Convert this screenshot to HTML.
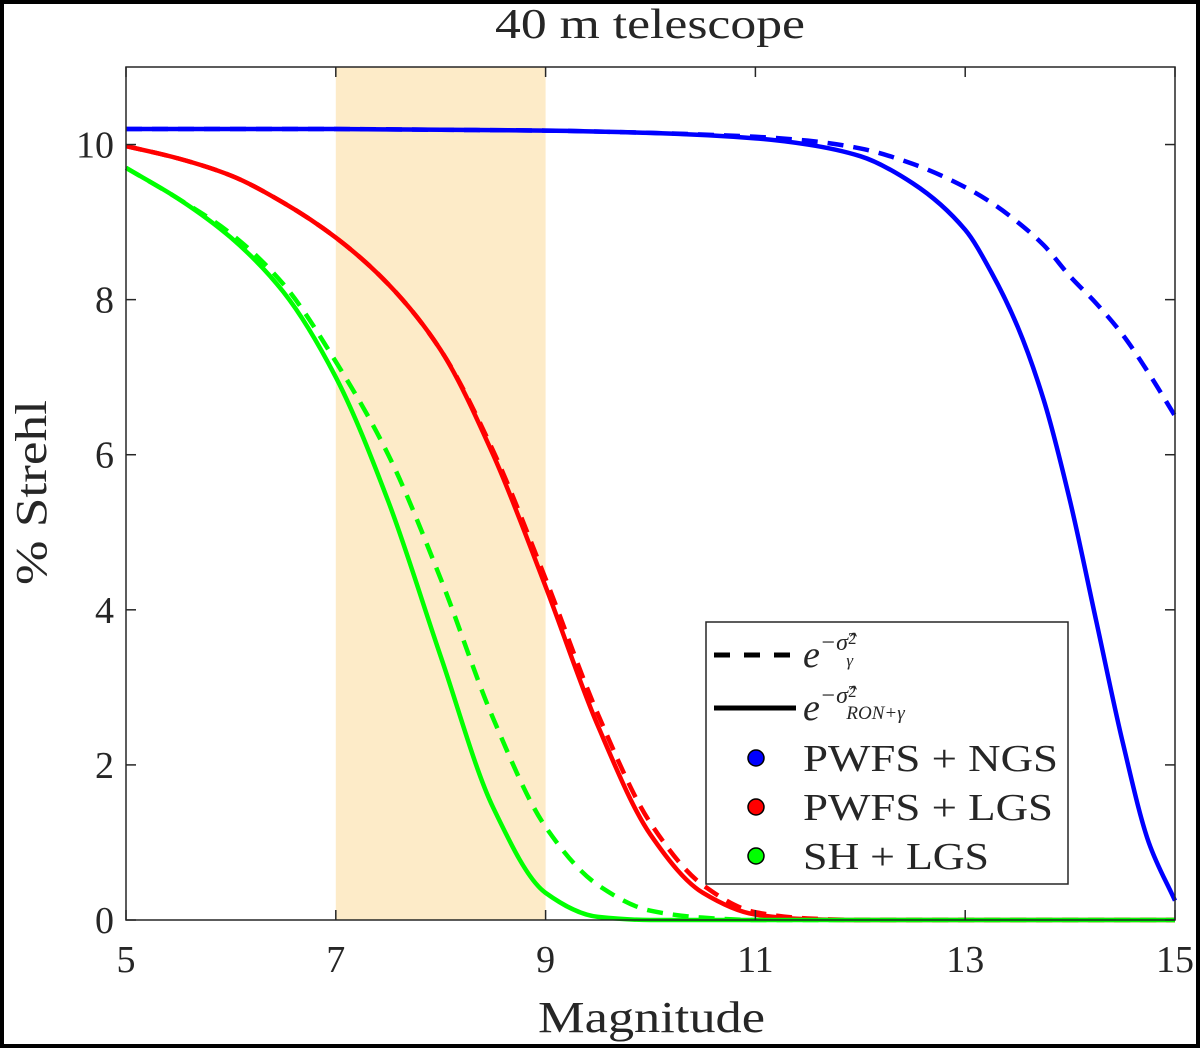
<!DOCTYPE html>
<html><head><meta charset="utf-8"><style>
body{margin:0;background:#fff}
svg{display:block}
text{font-family:"Liberation Serif",serif;fill:#262626}
</style></head><body>
<svg width="1200" height="1048" viewBox="0 0 1200 1048">
<rect x="2" y="2" width="1196" height="1044" fill="#fff" stroke="#000" stroke-width="4"/>
<g id="plot"></g>
</svg>
<script>
const xTicks=[5,7,9,11,13,15];
const yTicks=[0,2,4,6,8,10];
const blueX=[5,6,7,8,9,10,11,11.5,12,12.5,13,13.25,13.5,13.75,14,14.25,14.5,14.75,15];
const blueSolid=[10.2,10.2,10.2,10.19,10.18,10.15,10.08,10.0,9.85,9.5,8.9,8.35,7.65,6.7,5.4,3.85,2.3,1.0,0.25];
const blueDashed=[10.2,10.2,10.2,10.19,10.18,10.15,10.1,10.05,9.95,9.75,9.45,9.25,9.0,8.7,8.3,7.95,7.55,7.05,6.5];
const rgX=[5,5.5,6,6.5,7,7.5,8,8.5,9,9.5,10,10.5,11,11.5,12,13,14,15];
const redSolid=[9.98,9.82,9.6,9.25,8.8,8.2,7.35,6.0,4.3,2.5,1.1,0.35,0.07,0.01,0,0,0,0];
const redDashed=[9.98,9.82,9.6,9.25,8.8,8.2,7.35,6.05,4.4,2.65,1.25,0.45,0.1,0.02,0,0,0,0];
const greenSolid=[9.7,9.3,8.8,8.1,7.0,5.4,3.4,1.45,0.35,0.04,0,0,0,0,0,0,0,0];
const greenDashed=[9.7,9.3,8.85,8.2,7.2,6.0,4.4,2.6,1.2,0.45,0.12,0.03,0,0,0,0,0,0];
const band=[7,9];
const legendLabels=["PWFS + NGS","PWFS + LGS","SH + LGS"];
const legendWidths=[255,250,186];
const legendColors=["#0000ff","#ff0000","#00ff00"];

const L=126,R=1175,T=67,B=920,xmin=5,xmax=15,ymin=0,ymax=11;
const sx=v=>L+(v-xmin)/(xmax-xmin)*(R-L);
const sy=v=>B-(v-ymin)/(ymax-ymin)*(B-T);
const NS="http://www.w3.org/2000/svg";
const g=document.getElementById('plot');
function mk(t,a,p){const e=document.createElementNS(NS,t);for(const k in a)e.setAttribute(k,a[k]);(p||g).appendChild(e);return e;}

const bandEl=mk('rect',{x:sx(band[0]),y:T,width:sx(band[1])-sx(band[0]),height:B-T,fill:'#fdebc8'});



function pathFrom(xs,ys){
  const n=xs.length,h=[],d=[],m=new Array(n);
  for(let i=0;i<n-1;i++){h[i]=xs[i+1]-xs[i];d[i]=(ys[i+1]-ys[i])/h[i];}
  m[0]=d[0];m[n-1]=d[n-2];
  for(let i=1;i<n-1;i++){
    if(d[i-1]*d[i]<=0)m[i]=0;
    else{const w1=2*h[i]+h[i-1],w2=h[i]+2*h[i-1];m[i]=(w1+w2)/(w1/d[i-1]+w2/d[i]);}
  }
  let p=`M${sx(xs[0])},${sy(ys[0])}`;
  for(let i=0;i<n-1;i++){
    const x1=xs[i]+h[i]/3,y1=ys[i]+m[i]*h[i]/3,x2=xs[i+1]-h[i]/3,y2=ys[i+1]-m[i+1]*h[i]/3;
    p+=` C${sx(x1)},${sy(y1)} ${sx(x2)},${sy(y2)} ${sx(xs[i+1])},${sy(ys[i+1])}`;
  }
  return p;
}
const series=[
 [blueX,blueDashed,'#0000ff',true,'blue-dashed-line'],
 [rgX,redDashed,'#ff0000',true,'red-dashed-line'],
 [rgX,greenDashed,'#00ff00',true,'green-dashed-line'],
 [blueX,blueSolid,'#0000ff',false,'blue-solid-line'],
 [rgX,redSolid,'#ff0000',false,'red-solid-line'],
 [rgX,greenSolid,'#00ff00',false,'green-solid-line'],
];
for(const [xs,ys,c,dash,name] of series){
  const e=mk('path',{d:pathFrom(xs,ys),fill:'none',stroke:c,'stroke-width':4.5});
  if(dash)e.setAttribute('stroke-dasharray','16 10');
  
  
}

const box=mk('rect',{x:L,y:T,width:R-L,height:B-T,fill:'none',stroke:'#262626','stroke-width':1.5});


for(const v of xTicks){
  mk('line',{x1:sx(v),x2:sx(v),y1:B,y2:B-10,stroke:'#262626','stroke-width':1.5});
  mk('line',{x1:sx(v),x2:sx(v),y1:T,y2:T+10,stroke:'#262626','stroke-width':1.5});
  const t=mk('text',{x:sx(v),y:B+52,'text-anchor':'middle','font-size':38});
  t.textContent=v;
  
  
}
for(const v of yTicks){
  mk('line',{x1:L,x2:L+10,y1:sy(v),y2:sy(v),stroke:'#262626','stroke-width':1.5});
  mk('line',{x1:R,x2:R-10,y1:sy(v),y2:sy(v),stroke:'#262626','stroke-width':1.5});
  const t=mk('text',{x:L-12,y:sy(v)+13,'text-anchor':'end','font-size':38});
  t.textContent=v;
  
  
}
const title=mk('text',{x:495,y:38,'font-size':42,textLength:310,lengthAdjust:'spacingAndGlyphs'});
title.textContent='40 m telescope';


const xl=mk('text',{x:538,y:1032,'font-size':44,textLength:227,lengthAdjust:'spacingAndGlyphs'});
xl.textContent='Magnitude';


const yl=mk('text',{x:0,y:0,'font-size':44,textLength:185,lengthAdjust:'spacingAndGlyphs',transform:'translate(46,585) rotate(-90)'});
yl.textContent='% Strehl';



const lg=mk('g',{});


mk('rect',{x:706,y:622,width:362,height:262,fill:'#fff',stroke:'#262626','stroke-width':1.5},lg);
mk('line',{x1:714,x2:796,y1:655,y2:655,stroke:'#000','stroke-width':5,'stroke-dasharray':'16 14'},lg);
mk('line',{x1:714,x2:796,y1:708,y2:708,stroke:'#000','stroke-width':5},lg);
const e1=mk('text',{x:803,y:667,'font-size':38,'font-style':'italic'},lg);
e1.innerHTML='e<tspan dy="-17" font-size="24">−σ̂</tspan><tspan dy="-6" font-size="17" font-style="normal">2</tspan><tspan dx="-10" dy="22" font-size="17">γ</tspan>';


const e2=mk('text',{x:803,y:720,'font-size':38,'font-style':'italic'},lg);
e2.innerHTML='e<tspan dy="-17" font-size="24">−σ̂</tspan><tspan dy="-6" font-size="17" font-style="normal">2</tspan><tspan dx="-10" dy="22" font-size="19">RON+γ</tspan>';


legendLabels.forEach((lab,i)=>{
  const y=758+i*49;
  const c=mk('circle',{cx:756,cy:y,r:8,fill:legendColors[i],stroke:'#000','stroke-width':1.5},lg);
  
  
  const t=mk('text',{x:803,y:y+13,'font-size':38,textLength:legendWidths[i],lengthAdjust:'spacingAndGlyphs'},lg);
  t.textContent=lab;
  
  
});
</script>
</body></html>
